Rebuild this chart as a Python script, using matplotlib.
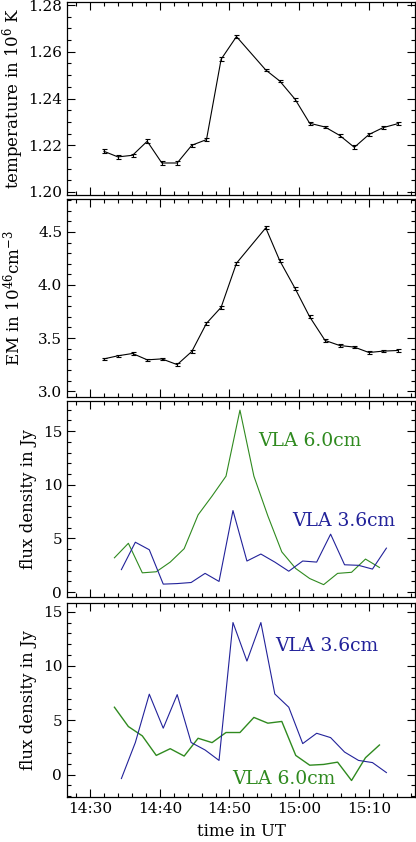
import numpy as np
import matplotlib
matplotlib.use("Agg")
import matplotlib.pyplot as plt
from matplotlib.ticker import MultipleLocator, FuncFormatter

plt.rcParams['font.family'] = ['DejaVu Serif']
plt.rcParams['mathtext.fontset'] = 'dejavuserif'

# minutes after 14:00 UT
t_xray = [32.0, 34.0, 36.1, 38.2, 40.3, 42.5, 44.6, 46.7, 48.8, 51.0,
          55.2, 57.2, 59.4, 61.5, 63.7, 65.8, 67.9, 70.0, 72.0, 74.1]
temperature = [1.2174, 1.2150, 1.2157, 1.2217, 1.2124, 1.2124, 1.2200, 1.2224, 1.2568, 1.2665,
               1.2522, 1.2475, 1.2397, 1.2294, 1.2278, 1.2242, 1.2191, 1.2246, 1.2275, 1.2292]
temperature_err = [0.0008, 0.0007, 0.0007, 0.0008, 0.0007, 0.0007, 0.0006, 0.0007, 0.0008, 0.0008,
                   0.0006, 0.0006, 0.0007, 0.0006, 0.0006, 0.0007, 0.0008, 0.0007, 0.0007, 0.0007]
em = [3.304, 3.333, 3.355, 3.295, 3.304, 3.250, 3.374, 3.639, 3.790, 4.205,
      4.538, 4.230, 3.968, 3.700, 3.478, 3.430, 3.415, 3.364, 3.377, 3.383]
em_err = [0.012, 0.008, 0.012, 0.012, 0.012, 0.012, 0.015, 0.015, 0.015, 0.015,
          0.015, 0.015, 0.015, 0.015, 0.012, 0.012, 0.008, 0.010, 0.008, 0.012]

t_6cm = [33.5, 35.5, 37.5, 39.5, 41.5, 43.5, 45.5, 47.5, 49.5, 51.5,
         53.5, 55.5, 57.5, 59.5, 61.5, 63.5, 65.5, 67.5, 69.5, 71.5]
t_36cm = [34.5, 36.5, 38.5, 40.5, 42.5, 44.5, 46.5, 48.5, 50.5, 52.5,
          54.5, 56.5, 58.5, 60.5, 62.5, 64.5, 66.5, 68.5, 70.5, 72.5]

# source A (third panel)
flux_6cm_a = [3.2, 4.55, 1.8, 1.9, 2.8, 4.05, 7.2, 8.95, 10.8, 16.95,
              10.8, 7.1, 3.75, 2.2, 1.27, 0.7, 1.75, 1.85, 3.08, 2.3]
flux_36cm_a = [2.1, 4.65, 3.95, 0.75, 0.8, 0.9, 1.75, 1.0, 7.6, 2.9,
               3.55, 2.8, 1.95, 2.9, 2.8, 5.4, 2.55, 2.5, 2.15, 4.1]
# source B (fourth panel)
flux_6cm_b = [6.2, 4.42, 3.56, 1.76, 2.38, 1.7, 3.34, 2.94, 3.87, 3.87,
              5.26, 4.73, 4.89, 1.76, 0.86, 0.93, 1.14, -0.55, 1.55, 2.72]
flux_36cm_b = [-0.37, 2.95, 7.4, 4.27, 7.36, 2.95, 2.26, 1.3, 14.0, 10.45,
               14.0, 7.42, 6.2, 2.85, 3.8, 3.4, 2.07, 1.3, 1.1, 0.18]

green = '#2f8a1f'
blue = '#22229a'

W, H = 416, 842
fig = plt.figure(figsize=(W / 100, H / 100), dpi=100)

left, right = 67, 415
boxes = [(2, 195), (199, 397), (401, 597), (603, 797)]
axes = []
for top, bot in boxes:
    ax = fig.add_axes([left / W, 1 - bot / H, (right - left) / W, (bot - top) / H])
    axes.append(ax)

def fmt_time(x, pos):
    h = 14 + int(x // 60)
    m = int(round(x % 60))
    return '%d:%02d' % (h, m)

for ax in axes:
    ax.set_xlim(26.7, 76.6)
    ax.xaxis.set_major_locator(MultipleLocator(10))
    ax.xaxis.set_minor_locator(MultipleLocator(2))
    ax.tick_params(which='both', direction='in', top=True, right=True, labelsize=11, width=0.8)
    ax.tick_params(which='major', length=6)
    ax.tick_params(which='minor', length=3)
    for s in ax.spines.values():
        s.set_linewidth(0.9)
    ax.xaxis.set_major_formatter(FuncFormatter(fmt_time))
    if ax is not axes[-1]:
        ax.tick_params(labelbottom=False)

ax1, ax2, ax3, ax4 = axes

ax1.errorbar(t_xray, temperature, yerr=temperature_err, color='black', lw=0.8,
             elinewidth=0.8, capsize=1.8, capthick=0.8)
ax1.set_ylim(1.1987, 1.2813)
ax1.yaxis.set_major_locator(MultipleLocator(0.02))
ax1.yaxis.set_minor_locator(MultipleLocator(0.005))
ax1.yaxis.set_major_formatter(FuncFormatter(lambda v, p: '%.2f' % v))
ax1.set_ylabel('temperature in 10$^6$ K', fontsize=12, va='center')
ax1.yaxis.set_label_coords(-0.155, 0.5)

ax2.errorbar(t_xray, em, yerr=em_err, color='black', lw=0.8,
             elinewidth=0.8, capsize=1.8, capthick=0.8)
ax2.set_ylim(2.945, 4.81)
ax2.yaxis.set_major_locator(MultipleLocator(0.5))
ax2.yaxis.set_minor_locator(MultipleLocator(0.1))
ax2.yaxis.set_major_formatter(FuncFormatter(lambda v, p: '%.1f' % v))
ax2.set_ylabel('EM in 10$^{46}$cm$^{-3}$', fontsize=12, va='center')
ax2.yaxis.set_label_coords(-0.155, 0.5)

ax3.plot(t_6cm, flux_6cm_a, color=green, lw=0.8)
ax3.plot(t_36cm, flux_36cm_a, color=blue, lw=0.8)
ax3.set_ylim(-0.45, 17.8)
ax3.text(54.1, 14.1, 'VLA 6.0cm', color=green, fontsize=13.5, va='center')
ax3.text(59.0, 6.65, 'VLA 3.6cm', color=blue, fontsize=13.5, va='center')

ax4.plot(t_6cm, flux_6cm_b, color=green, lw=1.0)
ax4.plot(t_36cm, flux_36cm_b, color=blue, lw=0.8)
ax4.set_ylim(-2.07, 15.8)
ax4.text(56.5, 11.8, 'VLA 3.6cm', color=blue, fontsize=13.5, va='center')
ax4.text(50.4, -0.37, 'VLA 6.0cm', color=green, fontsize=13.5, va='center')
ax4.set_xlabel('time in UT', fontsize=12, labelpad=5)

for ax in (ax3, ax4):
    ax.yaxis.set_major_locator(MultipleLocator(5))
    ax.yaxis.set_minor_locator(MultipleLocator(1))
    ax.set_ylabel('flux density in Jy', fontsize=12, va='center')
    ax.yaxis.set_label_coords(-0.112, 0.5)

fig.savefig('out.png', dpi=100)
